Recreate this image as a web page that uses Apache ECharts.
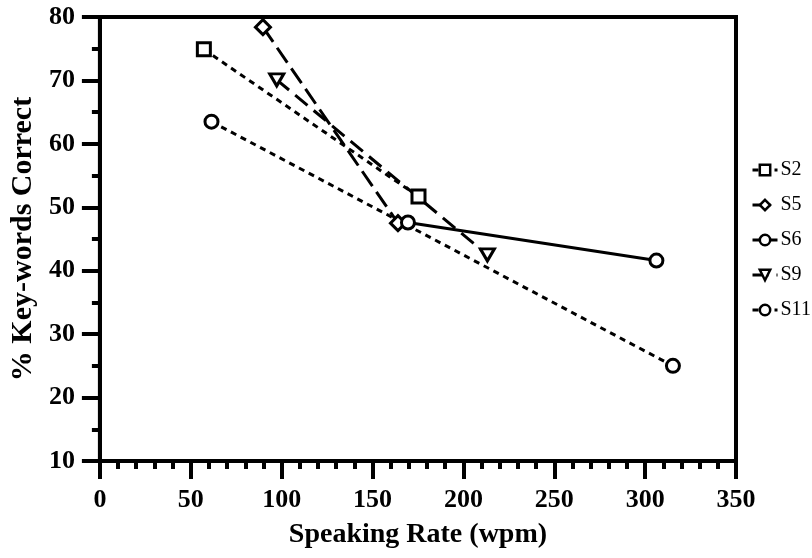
<!DOCTYPE html>
<html><head><meta charset="utf-8">
<script src="https://cdn.jsdelivr.net/npm/echarts@6/dist/echarts.min.js"></script>
<style>html,body{margin:0;padding:0;background:#fff}#c{width:812px;height:558px}</style>
</head><body><div id="c"></div>
<script>
const seriesNames = ['S2', 'S5', 'S6', 'S9', 'S11'];
const s2 = [[57.2, 74.9], [175.3, 51.7]];
const s5 = [[89.7, 78.4], [164.0, 47.5]];
const s6 = [[169.5, 47.6], [306.2, 41.6]];
const s9 = [[97.3, 70.1], [213.2, 42.5]];
const s11 = [[61.4, 63.5], [315.3, 25.0]];
const xTicks = [0, 50, 100, 150, 200, 250, 300, 350];
const yTicks = [10, 20, 30, 40, 50, 60, 70, 80];

const serif = 'Liberation Serif';
const invTri = 'path://M0,0L12,0L6,10Z';
function mk(name, data, symbol, size, dash) {
  return {
    name, type: 'line', data, symbol, symbolSize: size,
    lineStyle: { color: '#000', width: 3, type: dash },
    itemStyle: { color: '#fff', borderColor: '#000', borderWidth: 3 },
    emphasis: { disabled: true }, z: 3
  };
}
const chart = echarts.init(document.getElementById('c'), null, { renderer: 'canvas' });
chart.setOption({
  animation: false,
  backgroundColor: '#fff',
  grid: { left: 96, right: 76, top: 17, bottom: 97, show: true, borderColor: '#000', borderWidth: 4, backgroundColor: 'transparent' },
  legend: {
    orient: 'vertical', left: 746, top: 155, itemWidth: 25, itemHeight: 13, itemGap: 15,
    data: seriesNames,
    itemStyle: { borderWidth: 2.5 },
    lineStyle: { width: 3 },
    textStyle: { fontFamily: serif, fontSize: 20, color: '#000', padding: [0, 0, 0, -2] },
    selectedMode: false
  },
  xAxis: {
    type: 'value', min: xTicks[0], max: xTicks[xTicks.length - 1], interval: 50,
    name: 'Speaking Rate (wpm)', nameLocation: 'middle', nameGap: 60,
    nameTextStyle: { fontFamily: serif, fontWeight: 'bold', fontSize: 28, color: '#000' },
    axisLine: { lineStyle: { color: '#000', width: 4 } },
    axisTick: { inside: false, length: 18, lineStyle: { width: 4, color: '#000' } },
    minorTick: { show: true, splitNumber: 5, length: 8, lineStyle: { width: 4, color: '#000' } },
    splitLine: { show: false },
    axisLabel: { margin: 26, fontFamily: serif, fontWeight: 'bold', fontSize: 26, color: '#000' }
  },
  yAxis: {
    type: 'value', min: yTicks[0], max: yTicks[yTicks.length - 1], interval: 10,
    name: '% Key-words Correct', nameLocation: 'middle', nameGap: 44,
    nameTextStyle: { fontFamily: serif, fontWeight: 'bold', fontSize: 30, color: '#000' },
    axisLine: { lineStyle: { color: '#000', width: 4 } },
    axisTick: { inside: false, length: 18, lineStyle: { width: 4, color: '#000' } },
    minorTick: { show: true, splitNumber: 2, length: 8, lineStyle: { width: 4, color: '#000' } },
    splitLine: { show: false },
    axisLabel: { margin: 25, fontFamily: serif, fontWeight: 'bold', fontSize: 26, color: '#000' }
  },
  series: [
    mk('S2', s2, 'rect', 13, [6, 5]),
    mk('S5', s5, 'diamond', 15, [18, 7]),
    mk('S6', s6, 'circle', 13, 'solid'),
    mk('S9', s9, invTri, [14, 12], [16, 8]),
    mk('S11', s11, 'circle', 13, [6, 5])
  ]
});
</script></body></html>
